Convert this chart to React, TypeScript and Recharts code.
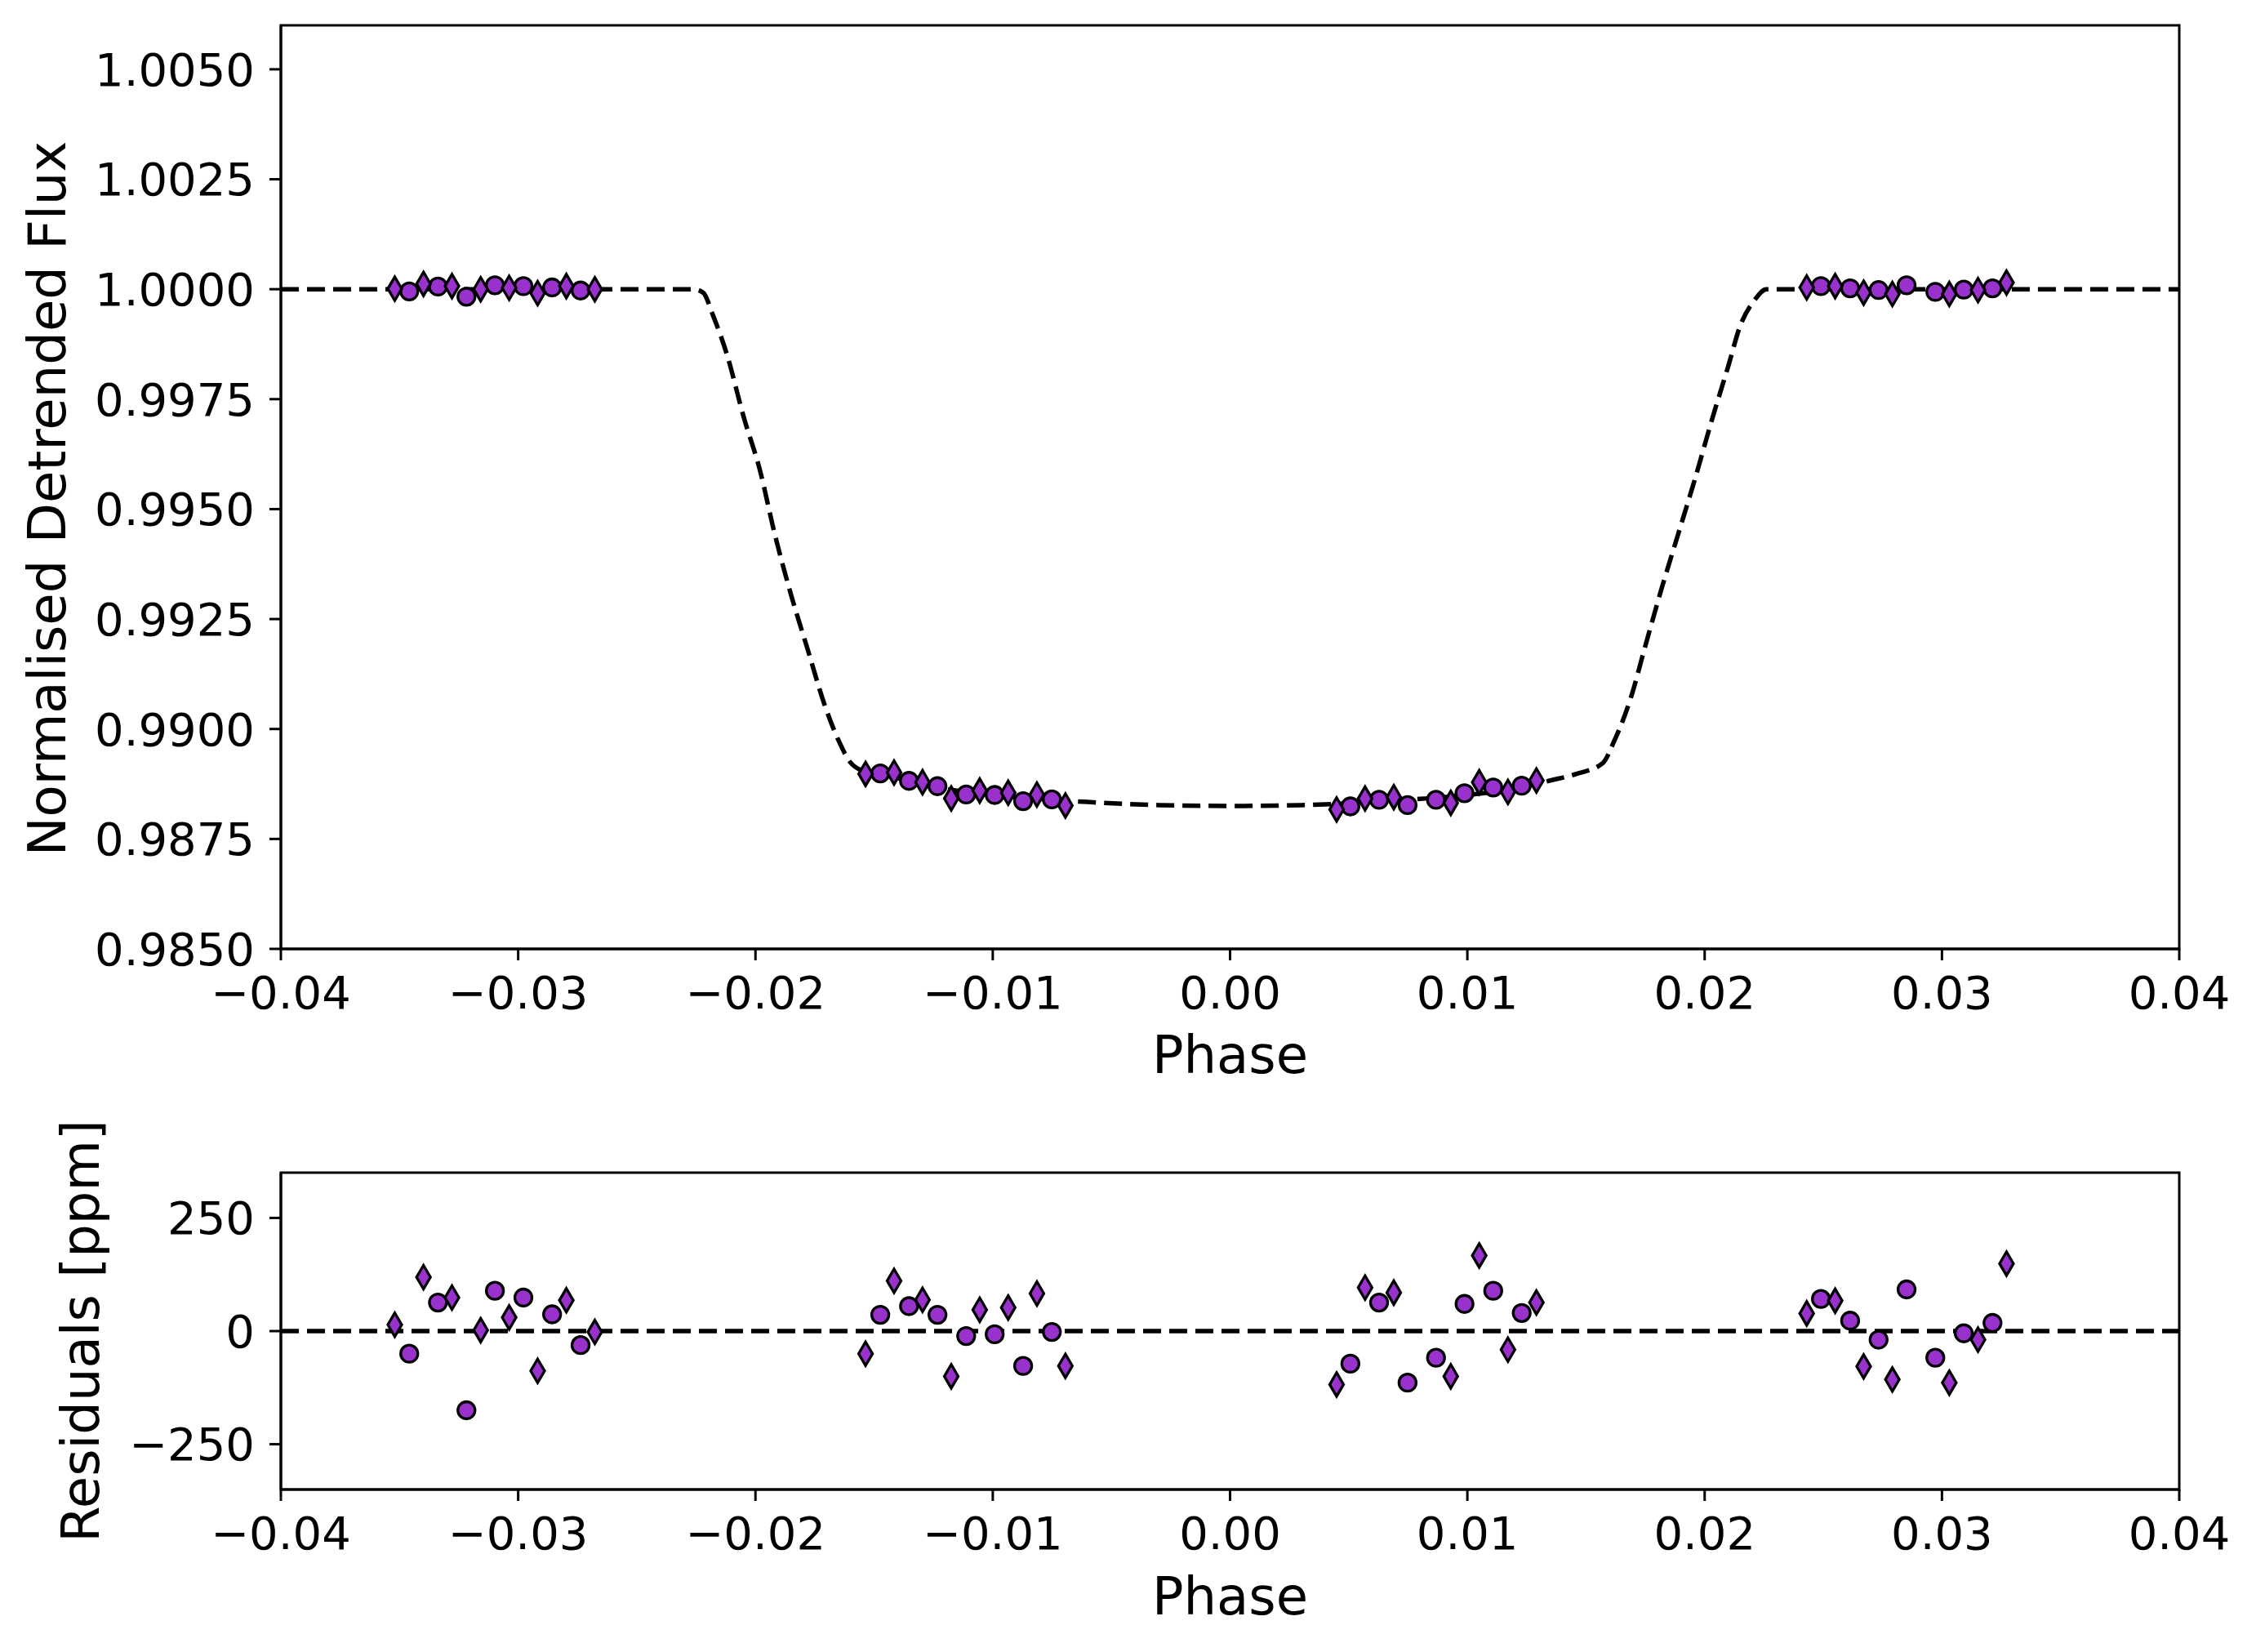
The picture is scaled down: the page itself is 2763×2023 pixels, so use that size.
import React from "react";
import {
  ComposedChart,
  Line,
  Scatter,
  XAxis,
  YAxis,
  ReferenceArea,
  ReferenceLine,
} from "recharts";

const FONT = "'DejaVu Sans', sans-serif";
const PURPLE = "#9932cc";

// transit model (dashed curve)
const modelPhase = [
  -0.04, -0.0226, -0.0222, -0.0218, -0.0212, -0.0205, -0.0198, -0.0192, -0.0185,
  -0.0178, -0.0171, -0.0165, -0.016, -0.0155, -0.014, -0.012, -0.01, -0.008,
  -0.006, -0.003, 0, 0.003, 0.006, 0.008, 0.01, 0.012, 0.0135, 0.0146, 0.0157,
  0.0162, 0.0169, 0.0175, 0.0182, 0.0189, 0.0196, 0.0203, 0.021, 0.0215, 0.0221,
  0.0226, 0.04,
];
const modelFlux = [
  1, 1, 0.99992, 0.99942, 0.99851, 0.9971, 0.99586, 0.99446, 0.99305, 0.99181,
  0.99057, 0.98974, 0.98924, 0.98905, 0.98888, 0.98864, 0.9885, 0.98841, 0.98834,
  0.98827, 0.98825, 0.98827, 0.98834, 0.98841, 0.9885, 0.98864, 0.98883, 0.98898,
  0.98922, 0.98974, 0.99073, 0.99189, 0.99322, 0.99446, 0.9957, 0.99702, 0.99826,
  0.99917, 0.99975, 1, 1,
];

// diamond markers
const diamondPhase = [
  -0.0352, -0.03399, -0.03279, -0.03158, -0.03038, -0.02918, -0.02797, -0.02677,
  -0.01536, -0.01416, -0.01296, -0.01175, -0.01055, -0.00935, -0.00814, -0.00694,
  0.00449, 0.00569, 0.0069, 0.0093, 0.0105, 0.01171, 0.01291,
  0.0243, 0.0255, 0.0267, 0.02791, 0.03031, 0.03152, 0.03272,
];
const diamondFlux = [
  1.00001, 1.00012, 1.00007, 1.0, 1.00003, 0.99991, 1.00007, 1.0,
  0.98898, 0.98901, 0.98879, 0.98842, 0.9886, 0.98855, 0.98851, 0.98826,
  0.98817, 0.98842, 0.98845, 0.98832, 0.98879, 0.98857, 0.98883,
  1.00004, 1.00007, 0.99992, 0.99989, 0.99989, 0.99998, 1.00015,
];
const diamondResid = [
  14, 119, 74, 2, 30, -88, 68, -2,
  -50, 111, 69, -100, 47, 52, 83, -77,
  -118, 96, 85, -100, 167, -41, 63,
  39, 67, -78, -107, -114, -19, 149,
];

// circle markers
const circlePhase = [
  -0.03459, -0.03338, -0.03218, -0.03098, -0.02978, -0.02857, -0.02737,
  -0.01474, -0.01353, -0.01233, -0.01112, -0.00992, -0.00872, -0.00751,
  0.00507, 0.00628, 0.00748, 0.00868, 0.00988, 0.01109, 0.01229,
  0.0249, 0.02613, 0.02733, 0.02851, 0.02972, 0.03092, 0.03213,
];
const circleFlux = [
  0.99995, 1.00006, 0.99983, 1.00009, 1.00007, 1.00004, 0.99997,
  0.98899, 0.98882, 0.9887, 0.98851, 0.9885, 0.98836, 0.9884,
  0.98824, 0.98839, 0.98827, 0.98839, 0.98854, 0.98867, 0.98871,
  1.00007, 1.00002, 0.99998, 1.00009, 0.99994, 0.99999, 1.00002,
];
const circleResid = [
  -50, 63, -175, 89, 74, 37, -31,
  36, 55, 36, -11, -7, -77, -2,
  -72, 63, -114, -59, 60, 89, 40,
  71, 23, -19, 92, -59, -5, 18,
];

const phaseTicks = [-0.04, -0.03, -0.02, -0.01, 0, 0.01, 0.02, 0.03, 0.04];
const fluxTicks = [0.985, 0.9875, 0.99, 0.9925, 0.995, 0.9975, 1.0, 1.0025, 1.005];
const residTicks = [-250, 0, 250];

const modelData = modelPhase.map((x, i) => ({ x, y: modelFlux[i] }));
const diamondTop = diamondPhase.map((x, i) => ({ x, y: diamondFlux[i] }));
const circleTop = circlePhase.map((x, i) => ({ x, y: circleFlux[i] }));
const diamondBottom = diamondPhase.map((x, i) => ({ x, y: diamondResid[i] }));
const circleBottom = circlePhase.map((x, i) => ({ x, y: circleResid[i] }));

const minus = (s: string) => s.replace("-", "\u2212");

const tickStyle = { fill: "#000", fontSize: 56, fontFamily: FONT };
const labelStyle = { fill: "#000", fontSize: 64, fontFamily: FONT };
const lineStyle = { stroke: "#000", strokeWidth: 3 };

const CircleMark = (p: any) => (
  <circle cx={p.cx} cy={p.cy} r={10.5} fill={PURPLE} stroke="#000" strokeWidth={3.3} />
);

const DiamondMark = (p: any) => (
  <path
    d={`M${p.cx},${p.cy - 14.5}L${p.cx + 8.5},${p.cy}L${p.cx},${p.cy + 14.5}L${p.cx - 8.5},${p.cy}Z`}
    fill={PURPLE}
    stroke="#000"
    strokeWidth={3.3}
  />
);

// rotated y label, x = baseline-ish position, shift moves it down the axis
const yLabel = (text: string, x: number, shift: number) => (props: any) => {
  const vb = props.viewBox;
  const cy = vb.y + vb.height / 2 + shift;
  return (
    <text
      x={x}
      y={cy}
      dy="0.355em"
      transform={`rotate(-90, ${x}, ${cy})`}
      textAnchor="middle"
      fill="#000"
      fontSize={64}
      fontFamily={FONT}
    >
      {text}
    </text>
  );
};

export default function App() {
  return (
    <div
      style={{
        position: "absolute",
        left: 0,
        top: 0,
        width: 2763,
        height: 2023,
        background: "#fff",
      }}
    >
      <div style={{ position: "absolute", left: 0, top: 0 }}>
        <ComposedChart
          width={2763}
          height={1330}
          margin={{ top: 31, right: 94, left: 0, bottom: 0 }}
        >
          <XAxis
            dataKey="x"
            type="number"
            domain={[-0.04, 0.04]}
            ticks={phaseTicks}
            interval={0}
            allowDataOverflow
            height={168}
            tickSize={14}
            tickMargin={19}
            tick={tickStyle}
            tickLine={lineStyle}
            axisLine={lineStyle}
            tickFormatter={(v: number) => minus(v.toFixed(2))}
            label={{ value: "Phase", position: "insideBottom", offset: 16, ...labelStyle }}
          />
          <YAxis
            dataKey="y"
            type="number"
            domain={[0.985, 1.006]}
            ticks={fluxTicks}
            interval={0}
            allowDataOverflow
            width={344}
            tickSize={14}
            tickMargin={18}
            tick={tickStyle}
            tickLine={lineStyle}
            axisLine={lineStyle}
            tickFormatter={(v: number) => v.toFixed(4)}
            label={{ content: yLabel("Normalised Detrended Flux", 57, 14) }}
          />
          <ReferenceArea
            x1={-0.04}
            x2={0.04}
            y1={0.985}
            y2={1.006}
            fill="none"
            fillOpacity={0}
            stroke="#000"
            strokeWidth={3}
            strokeOpacity={1}
          />
          <Scatter data={circleTop} dataKey="y" shape={CircleMark} isAnimationActive={false} />
          <Scatter data={diamondTop} dataKey="y" shape={DiamondMark} isAnimationActive={false} />
          <Line
            data={modelData}
            dataKey="y"
            type="monotone"
            stroke="#000"
            strokeWidth={5.5}
            strokeDasharray="22 10"
            dot={false}
            activeDot={false}
            isAnimationActive={false}
          />
        </ComposedChart>
      </div>
      <div style={{ position: "absolute", left: 0, top: 1330 }}>
        <ComposedChart
          width={2763}
          height={693}
          margin={{ top: 106, right: 94, left: 0, bottom: 0 }}
        >
          <XAxis
            dataKey="x"
            type="number"
            domain={[-0.04, 0.04]}
            ticks={phaseTicks}
            interval={0}
            allowDataOverflow
            height={199}
            tickSize={14}
            tickMargin={19}
            tick={tickStyle}
            tickLine={lineStyle}
            axisLine={lineStyle}
            tickFormatter={(v: number) => minus(v.toFixed(2))}
            label={{ value: "Phase", position: "insideBottom", offset: 46, ...labelStyle }}
          />
          <YAxis
            dataKey="y"
            type="number"
            domain={[-350, 350]}
            ticks={residTicks}
            interval={0}
            allowDataOverflow
            width={344}
            tickSize={14}
            tickMargin={18}
            tick={tickStyle}
            tickLine={lineStyle}
            axisLine={lineStyle}
            tickFormatter={(v: number) => minus(String(v))}
            label={{ content: yLabel("Residuals [ppm]", 98, 0) }}
          />
          <ReferenceArea
            x1={-0.04}
            x2={0.04}
            y1={-350}
            y2={350}
            fill="none"
            fillOpacity={0}
            stroke="#000"
            strokeWidth={3}
            strokeOpacity={1}
          />
          <ReferenceLine y={0} stroke="#000" strokeWidth={5.5} strokeDasharray="22 10" />
          <Scatter data={circleBottom} dataKey="y" shape={CircleMark} isAnimationActive={false} />
          <Scatter data={diamondBottom} dataKey="y" shape={DiamondMark} isAnimationActive={false} />
        </ComposedChart>
      </div>
    </div>
  );
}
